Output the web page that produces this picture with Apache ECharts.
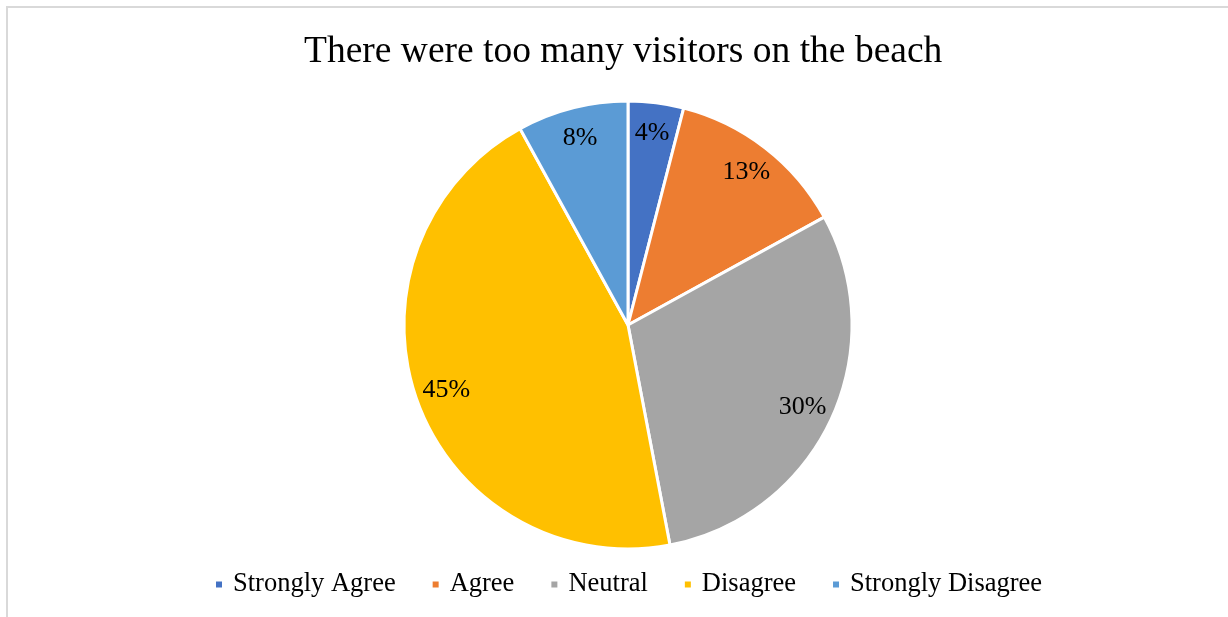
<!DOCTYPE html>
<html><head><meta charset="utf-8">
<script src="https://cdn.jsdelivr.net/npm/echarts@6/dist/echarts.min.js"></script>
<style>html,body{margin:0;padding:0;background:#fff}#c{width:1228px;height:617px}</style>
</head><body><div id="c"></div>
<script>
const titleText = 'There were too many visitors on the beach';
const categories = ['Strongly Agree', 'Agree', 'Neutral', 'Disagree', 'Strongly Disagree'];
const values = [4, 13, 30, 45, 8];
const colors = ['#4472C4', '#ED7D31', '#A5A5A5', '#FFC000', '#5B9BD5'];

const data = categories.map((n, i) => ({ name: n, value: values[i] }));
const font = '"Liberation Serif", "Times New Roman", serif';
const chart = echarts.init(document.getElementById('c'), null, { renderer: 'canvas' });
chart.setOption({
  animation: false,
  color: colors,
  graphic: [{
    type: 'rect', silent: true,
    shape: { x: 7, y: 7, width: 1240, height: 640 },
    style: { fill: 'none', stroke: '#d9d9d9', lineWidth: 2 }
  }],
  title: {
    text: titleText, left: 299, top: 28,
    textStyle: { fontFamily: font, fontSize: 37.5, fontWeight: 'normal', color: '#000' }
  },
  legend: {
    data: categories, top: 566, left: 209,
    icon: 'rect', itemWidth: 8, itemHeight: 8, itemGap: 35,
    textStyle: { fontFamily: font, fontSize: 26.5, color: '#000', padding: [0, 0, 0, 5] }
  },
  series: [{
    type: 'pie', center: [628, 325], radius: [0, 224],
    startAngle: 90, clockwise: true, silent: true,
    data: data,
    itemStyle: { borderColor: '#fff', borderWidth: 3 },
    label: { show: false }, labelLine: { show: false }
  }, {
    type: 'pie', center: [628, 325], radius: [156, 224],
    startAngle: 90, clockwise: true, silent: true,
    legendHoverLink: false,
    data: data,
    itemStyle: { color: 'rgba(0,0,0,0)', borderWidth: 0 },
    label: {
      show: true, position: 'inside',
      formatter: p => p.value + '%',
      fontFamily: font, fontSize: 26, color: '#000'
    },
    labelLine: { show: false }
  }]
});
</script></body></html>
